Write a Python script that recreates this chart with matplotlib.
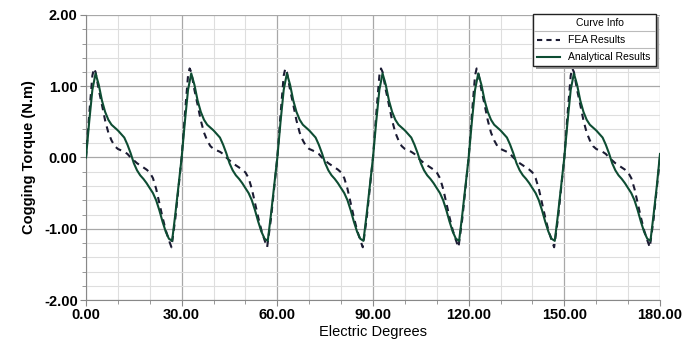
import numpy as np
import matplotlib.pyplot as plt
from matplotlib.patches import Rectangle
from matplotlib.lines import Line2D

plt.rcParams['font.family'] = ['Liberation Sans', 'DejaVu Sans']

deg_ana = [0, 1, 2, 3, 4, 5, 6, 7, 8, 10, 12, 13, 14, 15, 16, 17, 18, 19, 20,
           21, 22, 23, 24, 25, 26, 27, 28, 29]
val_ana = [0.00, 0.50, 0.95, 1.18, 1.02, 0.80, 0.64, 0.53, 0.46, 0.38, 0.28,
           0.18, 0.06, -0.08, -0.18, -0.25, -0.30, -0.36, -0.43, -0.50, -0.60,
           -0.74, -0.90, -1.04, -1.14, -1.17, -0.80, -0.40]

deg_fea = [0, 1, 2, 2.5, 3, 4, 5, 6, 7, 8, 9, 10, 12, 13, 14, 15, 16, 17, 18,
           19, 20, 21, 22, 23, 24, 25, 26, 26.8, 28, 29]
val_fea = [0.00, 0.60, 1.15, 1.25, 1.20, 0.95, 0.74, 0.52, 0.35, 0.24, 0.16,
           0.12, 0.08, 0.05, 0.00, -0.04, -0.08, -0.11, -0.14, -0.17, -0.21,
           -0.29, -0.44, -0.64, -0.84, -1.02, -1.16, -1.26, -0.86, -0.43]

period_starts = [0, 30, 60, 90, 120, 150]
end_deg = [180]
end_ana = [0.05]
end_fea = [0.0]

x_ana = [s + d for s in period_starts for d in deg_ana] + end_deg
y_ana = val_ana * len(period_starts) + end_ana
x_fea = [s + d for s in period_starts for d in deg_fea] + end_deg
y_fea = val_fea * len(period_starts) + end_fea

xticks = [0, 30, 60, 90, 120, 150, 180]
yticks = [-2, -1, 0, 1, 2]

W, H = 683, 348
fig = plt.figure(figsize=(W / 100, H / 100), dpi=100)
ax = fig.add_axes([86 / W, 1 - 300 / H, (660 - 86) / W, (300 - 15) / H])

ax.plot(x_fea, y_fea, color='#1b1b33', lw=1.5, ls=(0, (3, 2.5)), zorder=3)
ax.plot(x_ana, y_ana, color='#0e4d33', lw=1.5, zorder=4)

ax.set_xlim(0, 180)
ax.set_ylim(-2, 2)
ax.set_xticks(xticks)
ax.set_xticklabels(['%.2f' % v for v in xticks])
ax.set_yticks(yticks)
ax.set_yticklabels(['%.2f' % v for v in yticks])
ax.set_xticks(np.arange(0, 181, 10), minor=True)
ax.set_yticks(np.arange(-2, 2.01, 0.2), minor=True)

ax.grid(which='major', color='#a8a8a8', lw=0.9)
ax.grid(which='minor', color='#dedede', lw=0.8)
ax.set_axisbelow(True)

for s in ['top', 'right']:
    ax.spines[s].set_visible(False)
for s in ['left', 'bottom']:
    ax.spines[s].set_color('#888888')

ax.tick_params(which='both', direction='out', color='#888888', length=4,
               labelsize=10.5, pad=2)
ax.tick_params(which='minor', length=3)
for lab in ax.get_xticklabels() + ax.get_yticklabels():
    lab.set_fontweight('bold')

ax.set_xlabel('Electric Degrees', fontsize=10.5, labelpad=2)
ax.set_ylabel('Cogging Torque (N.m)', fontsize=10.5, fontweight='bold', labelpad=6)


# legend box drawn in figure pixels
def fx(px):
    return px / W


def fy(py):
    return 1 - py / H


tf = fig.transFigure
x0, x1, y0, y1 = 533, 656, 14, 66
fig.patches.append(Rectangle((fx(x0 + 3), fy(y1 + 3)), fx(x1 - x0), (y1 - y0) / H,
                             transform=tf, facecolor='#9a9a9a', edgecolor='none', zorder=9))
fig.patches.append(Rectangle((fx(x0), fy(y1)), fx(x1 - x0), (y1 - y0) / H,
                             transform=tf, facecolor='white', edgecolor='#222222',
                             lw=1.0, zorder=10))
for py in [31, 48]:
    fig.lines.append(Line2D([fx(x0 + 1), fx(x1 - 1)], [fy(py), fy(py)], transform=tf,
                            color='#bbbbbb', lw=0.8, zorder=11))
fig.text(fx((x0 + x1) / 2 + 5), fy(23), 'Curve Info', ha='center', va='center',
         fontsize=7.5, zorder=12)
fig.lines.append(Line2D([fx(537), fx(560)], [fy(40), fy(40)], transform=tf,
                        color='#1b1b33', lw=1.5, ls=(0, (2.5, 2)), zorder=12))
fig.lines.append(Line2D([fx(537), fx(560)], [fy(57), fy(57)], transform=tf,
                        color='#0e4d33', lw=1.5, zorder=12))
fig.text(fx(568), fy(40), 'FEA Results', ha='left', va='center', fontsize=7.5, zorder=12)
fig.text(fx(568), fy(57), 'Analytical Results', ha='left', va='center', fontsize=7.5, zorder=12)

fig.savefig('out.png', dpi=100)
